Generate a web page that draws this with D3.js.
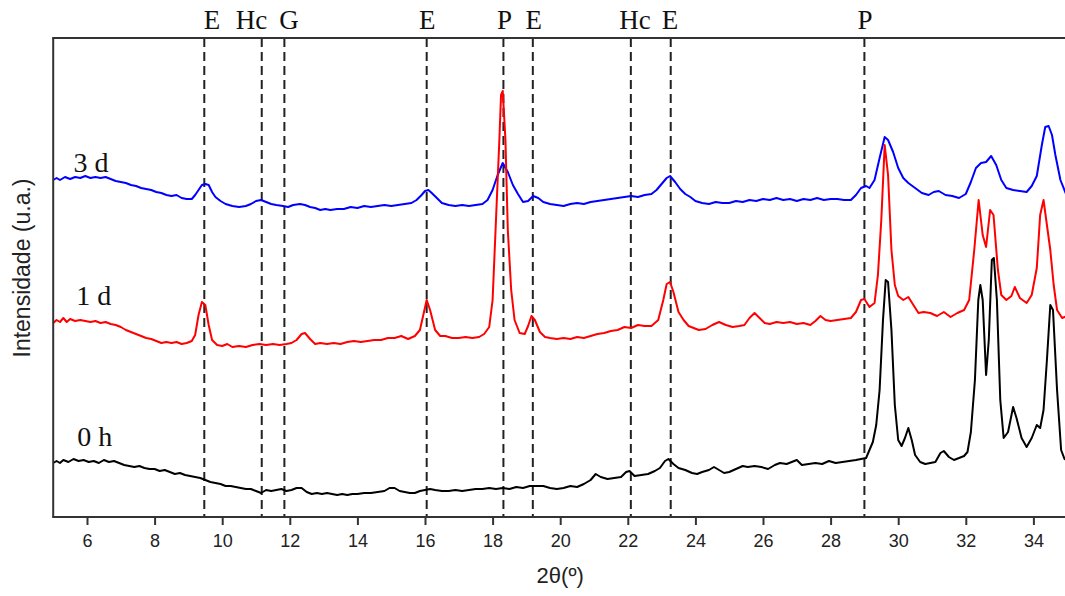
<!DOCTYPE html>
<html>
<head>
<meta charset="utf-8">
<script src="https://cdn.jsdelivr.net/npm/d3@7"></script>
<style>
  html, body { margin: 0; padding: 0; background: #fff; }
  svg { display: block; }
</style>
</head>
<body>
<div class="container"></div>
<script>
// [2theta, intensity (a.u.)]
const scan3d = [
  [5.0,337],[5.1,339],[5.2,337],[5.35,340],[5.5,338],[5.65,340],[5.8,339],[5.95,341],[6.1,339],[6.25,340],
  [6.4,339],[6.55,340],[6.7,338],[6.85,336],[7.0,335],[7.15,334],[7.3,332],[7.45,331],[7.6,329],[7.75,328],
  [7.9,327],[8.05,325],[8.2,324],[8.35,322],[8.5,321],[8.65,322],[8.8,319],[8.95,318],[9.1,318],[9.2,322],
  [9.3,327],[9.4,332],[9.5,333],[9.6,332],[9.7,325],[9.8,320],[9.95,316],[10.1,313],[10.3,311],[10.5,310],
  [10.7,311],[10.85,313],[11.0,316],[11.15,317],[11.3,315],[11.45,313],[11.6,312],[11.8,311],[11.95,310],[12.1,312],
  [12.3,313],[12.45,312],[12.6,310],[12.75,309],[12.9,307],[13.05,308],[13.2,307],[13.4,308],[13.6,308],[13.8,310],
  [14.0,309],[14.2,311],[14.4,310],[14.6,311],[14.8,312],[15.0,311],[15.2,312],[15.4,313],[15.6,314],[15.75,317],
  [15.9,322],[16.0,326],[16.1,327],[16.2,324],[16.35,319],[16.5,314],[16.7,312],[16.9,311],[17.1,312],[17.3,311],
  [17.5,312],[17.7,313],[17.85,317],[18.0,327],[18.15,342],[18.3,354],[18.45,345],[18.6,332],[18.75,323],[18.9,315],
  [19.05,316],[19.2,321],[19.35,319],[19.5,315],[19.7,313],[19.9,312],[20.1,311],[20.3,313],[20.5,314],[20.7,313],
  [20.9,315],[21.1,316],[21.3,317],[21.5,318],[21.7,319],[21.9,320],[22.1,321],[22.3,320],[22.5,322],[22.7,323],
  [22.85,327],[23.0,333],[23.15,339],[23.25,341],[23.4,335],[23.55,328],[23.7,323],[23.85,320],[24.0,316],[24.2,314],
  [24.4,313],[24.6,315],[24.8,314],[25.0,314],[25.2,316],[25.4,315],[25.6,317],[25.8,316],[26.0,318],[26.2,317],
  [26.4,319],[26.6,317],[26.8,318],[27.0,316],[27.2,318],[27.4,317],[27.6,319],[27.8,317],[28.0,318],[28.2,318],
  [28.4,317],[28.6,317],[28.75,322],[28.9,329],[29.05,331],[29.15,329],[29.3,337],[29.45,359],[29.6,380],[29.7,377],
  [29.85,365],[30.0,349],[30.15,339],[30.3,334],[30.5,329],[30.7,324],[30.9,322],[31.05,325],[31.2,326],[31.4,322],
  [31.6,321],[31.8,319],[32.0,323],[32.15,335],[32.3,349],[32.45,354],[32.6,355],[32.75,361],[32.9,352],[33.05,337],
  [33.2,329],[33.4,327],[33.6,326],[33.8,325],[33.95,331],[34.1,341],[34.25,372],[34.35,390],[34.45,391],[34.55,382],
  [34.65,362],[34.8,337],[35.0,320]
];

const scan1d = [
  [5.0,194],[5.1,197],[5.2,195],[5.3,199],[5.4,195],[5.5,198],[5.65,196],[5.8,197],[5.95,196],[6.1,195],
  [6.25,196],[6.4,194],[6.55,195],[6.7,193],[6.85,192],[7.0,190],[7.15,187],[7.3,185],[7.45,183],[7.6,181],
  [7.75,179],[7.9,178],[8.05,176],[8.2,174],[8.35,175],[8.5,174],[8.65,175],[8.8,173],[8.95,174],[9.1,176],
  [9.2,182],[9.3,202],[9.4,215],[9.5,212],[9.6,192],[9.7,177],[9.85,172],[10.0,171],[10.15,173],[10.3,170],
  [10.5,171],[10.7,170],[10.9,172],[11.1,173],[11.3,172],[11.5,173],[11.7,172],[11.9,173],[12.05,174],[12.2,177],
  [12.35,183],[12.45,184],[12.6,178],[12.75,173],[12.9,174],[13.1,173],[13.3,174],[13.5,173],[13.7,175],[13.9,176],
  [14.1,175],[14.3,176],[14.5,177],[14.7,177],[14.9,179],[15.1,179],[15.3,181],[15.5,178],[15.7,181],[15.85,187],
  [15.95,202],[16.05,217],[16.15,207],[16.3,187],[16.45,181],[16.6,181],[16.8,179],[17.0,179],[17.2,180],[17.4,179],
  [17.6,180],[17.75,183],[17.9,190],[18.0,217],[18.1,297],[18.2,377],[18.25,422],[18.3,426],[18.38,377],[18.45,287],
  [18.55,227],[18.65,197],[18.8,184],[18.95,183],[19.05,191],[19.15,201],[19.25,197],[19.4,185],[19.55,180],[19.7,179],
  [19.9,178],[20.1,179],[20.3,178],[20.5,180],[20.7,179],[20.9,181],[21.1,183],[21.3,184],[21.5,186],[21.7,187],
  [21.9,190],[22.1,189],[22.3,192],[22.5,191],[22.7,191],[22.9,197],[23.05,217],[23.15,233],[23.25,235],[23.35,225],
  [23.5,205],[23.65,197],[23.8,191],[23.95,189],[24.1,187],[24.3,188],[24.5,192],[24.7,195],[24.9,192],[25.1,190],
  [25.3,191],[25.45,192],[25.6,199],[25.75,204],[25.9,199],[26.05,194],[26.2,193],[26.4,195],[26.6,194],[26.8,195],
  [27.0,193],[27.2,194],[27.4,192],[27.55,196],[27.7,201],[27.85,197],[28.0,196],[28.2,197],[28.4,198],[28.6,199],
  [28.75,205],[28.9,217],[29.0,218],[29.15,210],[29.3,214],[29.4,242],[29.5,297],[29.6,372],[29.7,342],[29.8,267],
  [29.9,232],[30.0,221],[30.15,217],[30.3,220],[30.45,212],[30.6,204],[30.75,205],[30.95,204],[31.15,201],[31.35,205],
  [31.55,200],[31.75,204],[31.95,207],[32.1,217],[32.25,267],[32.38,317],[32.5,282],[32.6,270],[32.72,307],[32.82,302],
  [32.95,247],[33.05,222],[33.2,217],[33.35,221],[33.45,230],[33.6,219],[33.8,214],[33.95,222],[34.1,249],[34.2,302],
  [34.3,317],[34.42,287],[34.5,267],[34.6,232],[34.7,207],[34.85,199],[35.0,201]
];

const scan0h = [
  [5.0,54],[5.1,56],[5.2,54],[5.3,57],[5.45,55],[5.6,58],[5.75,56],[5.9,57],[6.05,55],[6.2,56],
  [6.35,54],[6.5,57],[6.65,55],[6.8,56],[6.95,54],[7.1,52],[7.25,51],[7.4,50],[7.55,51],[7.7,49],
  [7.85,48],[8.0,48],[8.15,46],[8.3,47],[8.45,45],[8.6,43],[8.75,44],[8.9,42],[9.05,41],[9.2,40],
  [9.35,39],[9.5,37],[9.65,35],[9.8,34],[9.95,33],[10.1,31],[10.25,31],[10.4,30],[10.55,29],[10.7,28],
  [10.85,28],[11.0,26],[11.15,24],[11.3,27],[11.45,26],[11.6,27],[11.75,28],[11.9,26],[12.05,27],[12.2,29],
  [12.35,29],[12.5,25],[12.65,23],[12.8,24],[12.95,23],[13.1,24],[13.25,23],[13.4,22],[13.55,23],[13.7,22],
  [13.85,23],[14.0,23],[14.2,24],[14.4,24],[14.6,25],[14.8,26],[14.95,29],[15.1,29],[15.25,26],[15.4,25],
  [15.55,24],[15.7,24],[15.85,26],[16.0,27],[16.15,28],[16.3,27],[16.5,26],[16.7,26],[16.9,27],[17.1,26],
  [17.3,27],[17.5,28],[17.7,28],[17.9,29],[18.1,28],[18.3,29],[18.5,28],[18.7,30],[18.9,29],[19.1,31],
  [19.3,31],[19.5,31],[19.7,29],[19.9,28],[20.1,29],[20.3,31],[20.5,30],[20.7,33],[20.9,37],[21.05,43],
  [21.2,40],[21.4,38],[21.6,39],[21.8,40],[21.95,45],[22.05,46],[22.2,41],[22.4,42],[22.6,43],[22.8,46],
  [22.95,49],[23.1,56],[23.2,58],[23.35,53],[23.5,49],[23.7,47],[23.9,44],[24.05,43],[24.2,45],[24.4,47],
  [24.55,50],[24.7,47],[24.85,44],[25.0,45],[25.2,48],[25.4,51],[25.55,50],[25.75,51],[25.95,50],[26.15,48],
  [26.35,52],[26.5,54],[26.7,53],[26.85,55],[27.0,57],[27.15,52],[27.35,53],[27.55,54],[27.75,53],[27.95,56],
  [28.15,54],[28.35,55],[28.55,56],[28.75,57],[28.9,58],[29.05,59],[29.15,67],[29.25,75],[29.35,92],[29.45,127],
  [29.55,197],[29.63,237],[29.7,235],[29.8,187],[29.9,112],[30.0,77],[30.1,71],[30.2,79],[30.3,89],[30.4,77],
  [30.5,62],[30.65,55],[30.8,53],[30.95,54],[31.1,55],[31.25,64],[31.35,66],[31.5,60],[31.65,57],[31.8,59],
  [31.95,61],[32.05,65],[32.15,85],[32.27,137],[32.37,217],[32.43,232],[32.5,217],[32.6,142],[32.68,177],[32.77,257],
  [32.83,259],[32.92,217],[33.02,117],[33.12,79],[33.25,85],[33.4,110],[33.5,99],[33.65,79],[33.8,70],[33.95,79],
  [34.1,92],[34.2,89],[34.3,107],[34.4,157],[34.5,212],[34.58,207],[34.7,127],[34.82,67],[34.92,58],[35.0,57]
];

const seriesNames = ['3 d', '1 d', '0 h'];
const seriesColors = ['#0000ff', '#ff0000', '#000000'];

// reference phase lines
const phaseAt = [9.47, 11.17, 11.84, 16.05, 18.32, 19.19, 22.09, 23.27, 29.0];
const phaseLabels = ['E', 'Hc', 'G', 'E', 'P', 'E', 'Hc', 'E', 'P'];
const phaseLabelAt = [9.7, 10.87, 11.98, 16.07, 18.35, 19.22, 22.21, 23.25, 29.02];

const xTicks = [6, 8, 10, 12, 14, 16, 18, 20, 22, 24, 26, 28, 30, 32, 34];

const width = 1065;
const height = 596;
const plotLeft = 53.2;
const plotTop = 38;
const plotBottom = 517;

const x = d3.scaleLinear().domain([5, 35]).range([plotLeft, 1067.2]);
const y = d3.scaleLinear().domain([0, 480]).range([plotBottom, plotTop - 1]);

const svg = d3.select('.container')
  .append('svg')
  .attr('width', width)
  .attr('height', height);

const serif = '"Liberation Serif", "Times New Roman", serif';
const sans = '"Liberation Sans", Arial, sans-serif';

// dashed phase markers
svg.append('g')
  .selectAll('line')
  .data(phaseAt)
  .enter()
  .append('line')
  .attr('x1', (d) => x(d))
  .attr('x2', (d) => x(d))
  .attr('y1', plotTop)
  .attr('y2', plotBottom)
  .attr('stroke', '#222')
  .attr('stroke-width', 2)
  .attr('stroke-dasharray', '9,5');

svg.append('g')
  .selectAll('text')
  .data(phaseLabels)
  .enter()
  .append('text')
  .attr('x', (d, i) => x(phaseLabelAt[i]))
  .attr('y', 29)
  .attr('text-anchor', 'middle')
  .attr('font-family', serif)
  .attr('font-size', 27)
  .attr('fill', '#111')
  .text((d) => d);

// patterns
const line = d3.line()
  .x((d) => x(d[0]))
  .y((d) => y(d[1]));

const scans = [scan3d, scan1d, scan0h];

svg.append('g')
  .selectAll('path')
  .data(scans)
  .enter()
  .append('path')
  .attr('d', line)
  .attr('fill', 'none')
  .attr('stroke', (d, i) => seriesColors[i])
  .attr('stroke-width', 2)
  .attr('stroke-linejoin', 'round');

// curve labels, placed above the start of each scan
const labelOffset = [[5.6, 345], [5.68, 212], [5.71, 71]];
svg.append('g')
  .selectAll('text')
  .data(seriesNames)
  .enter()
  .append('text')
  .attr('x', (d, i) => x(labelOffset[i][0]))
  .attr('y', (d, i) => y(labelOffset[i][1]))
  .attr('font-family', serif)
  .attr('font-size', 28)
  .attr('fill', '#111')
  .attr('xml:space', 'preserve')
  .text((d) => d);

// frame: left and top
svg.append('line')
  .attr('x1', plotLeft).attr('x2', plotLeft)
  .attr('y1', plotTop).attr('y2', plotBottom)
  .attr('stroke', '#333').attr('stroke-width', 2);
svg.append('line')
  .attr('x1', plotLeft - 1).attr('x2', width)
  .attr('y1', plotTop).attr('y2', plotTop)
  .attr('stroke', '#333').attr('stroke-width', 2);

const xAxis = d3.axisBottom(x)
  .tickValues(xTicks)
  .tickSize(8)
  .tickPadding(9)
  .tickSizeOuter(0);

const gx = svg.append('g')
  .attr('transform', `translate(0, ${plotBottom})`)
  .call(xAxis);
gx.select('.domain').attr('stroke', '#333').attr('stroke-width', 2)
  .attr('d', `M${plotLeft - 1},0H${width}`);
gx.selectAll('.tick line').attr('stroke', '#333').attr('stroke-width', 2);
gx.selectAll('.tick text')
  .attr('font-family', sans)
  .attr('font-size', 18)
  .attr('fill', '#222');

svg.append('text')
  .attr('x', x(20))
  .attr('y', 583)
  .attr('text-anchor', 'middle')
  .attr('font-family', sans)
  .attr('font-size', 22)
  .attr('fill', '#222')
  .text('2θ(º)');

svg.append('text')
  .attr('transform', 'translate(30, 268) rotate(-90)')
  .attr('text-anchor', 'middle')
  .attr('font-family', sans)
  .attr('font-size', 23)
  .attr('fill', '#222')
  .text('Intensidade (u.a.)');
</script>
</body>
</html>
